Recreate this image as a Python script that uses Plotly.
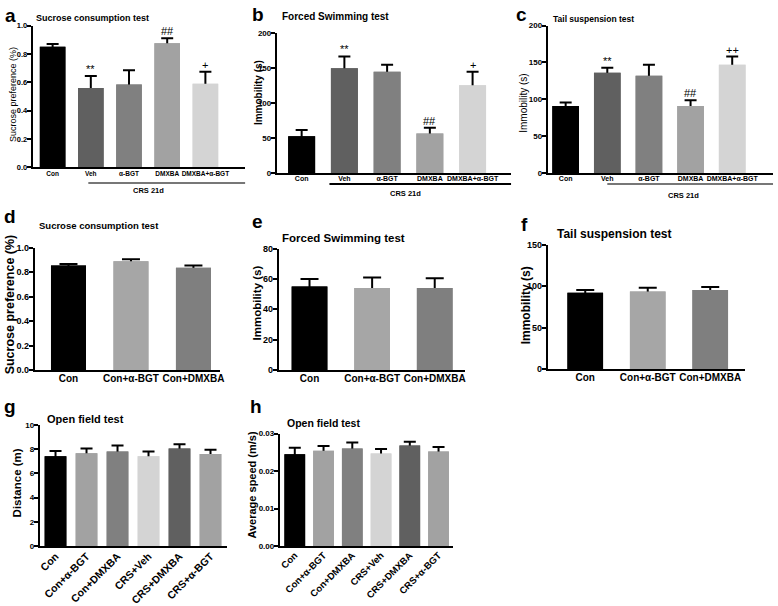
import plotly.graph_objects as go

W, H = 778, 606
FONT = "Liberation Sans, Arial, sans-serif"

# ---------------- data ----------------
cat_abc = ["Con", "Veh", "α-BGT", "DMXBA", "DMXBA+α-BGT"]
sucrose_a = [0.85, 0.56, 0.585, 0.875, 0.59]
sucrose_a_err = [0.02, 0.085, 0.10, 0.035, 0.085]
fst_b = [53, 150, 145, 57, 126]
fst_b_err = [9, 17, 10, 8, 19]
tst_c = [91, 136, 132, 91, 147]
tst_c_err = [5, 7, 15, 8, 11]
sig_a = ["", "**", "", "##", "+"]
sig_b = ["", "**", "", "##", "+"]
sig_c = ["", "**", "", "##", "++"]

cat_def = ["Con", "Con+α-BGT", "Con+DMXBA"]
sucrose_d = [0.855, 0.89, 0.835]
sucrose_d_err = [0.012, 0.015, 0.02]
fst_e = [55, 54, 54]
fst_e_err = [5, 7, 6.5]
tst_f = [92, 93.5, 95.5]
tst_f_err = [3.5, 4.5, 3.5]

cat_gh = ["Con", "Con+α-BGT", "Con+DMXBA", "CRS+Veh", "CRS+DMXBA", "CRS+α-BGT"]
dist_g = [7.4, 7.65, 7.8, 7.4, 8.05, 7.6]
dist_g_err = [0.45, 0.4, 0.5, 0.4, 0.35, 0.35]
speed_h = [0.0245, 0.0254, 0.026, 0.0247, 0.0268, 0.0252]
speed_h_err = [0.0017, 0.0013, 0.0016, 0.0012, 0.001, 0.0012]

# ---------------- styles ----------------
col_abc = ["#000000", "#606060", "#808080", "#a2a2a2", "#d4d4d4"]
col_def = ["#000000", "#a6a6a6", "#7f7f7f"]
col_gh = ["#000000", "#a2a2a2", "#808080", "#d4d4d4", "#606060", "#a2a2a2"]


def px(x):
    return x / W


def py(y):
    return 1 - y / H


fig = go.Figure()
annotations = []
shapes = []


def add_panel(i, cats, vals, errs, colors, box, xr, yr, dtick, fmt, bw, ew,
              ytf, xtf, xangle=0, sig=None, sigsize=11, xstand=-4):
    x0, x1, ytop, ybot = box
    xa = "x" if i == 1 else f"x{i}"
    ya = "y" if i == 1 else f"y{i}"
    fig.add_trace(go.Bar(
        x=cats, y=vals, width=bw, marker=dict(color=colors, line=dict(width=0)),
        error_y=dict(type="data", array=errs, symmetric=True, color="black",
                     thickness=2, width=ew),
        xaxis=xa, yaxis=ya, showlegend=False, hoverinfo="skip"))
    fig.add_trace(go.Bar(
        x=cats, y=vals, width=bw, marker=dict(color=colors, line=dict(width=0)),
        xaxis=xa, yaxis=ya, showlegend=False))
    fig.layout["xaxis" if i == 1 else f"xaxis{i}"] = dict(
        domain=[px(x0), px(x1)], anchor=ya, range=xr, type="category",
        showline=True, linecolor="black", linewidth=2, ticks="",
        showgrid=False, zeroline=False, tickfont=xtf, tickangle=xangle,
        ticklabelstandoff=xstand, fixedrange=True)
    fig.layout["yaxis" if i == 1 else f"yaxis{i}"] = dict(
        domain=[py(ybot), py(ytop)], anchor=xa, range=yr, dtick=dtick,
        tick0=0, tickformat=fmt, showline=True, linecolor="black",
        linewidth=2, ticks="outside", ticklen=4, tickwidth=1.5,
        tickcolor="black", showgrid=False, zeroline=False, tickfont=ytf,
        ticklabelstandoff=-2, fixedrange=True)
    if sig:
        for c, v, e, s in zip(cats, vals, errs, sig):
            if s:
                annotations.append(dict(
                    x=c, y=v + e, xref=xa, yref=ya, text=s, showarrow=False,
                    yanchor="bottom", yshift=-1,
                    font=dict(family=FONT, size=sigsize, color="black")))


def tf(size, bold=True):
    return dict(family=FONT, size=size, color="black",
                weight="bold" if bold else "normal")


# panel a
add_panel(1, cat_abc, sucrose_a, sucrose_a_err, col_abc, (31, 245, 21, 166),
          [-0.52, 5.04], [0, 1.0], 0.2, ".1f", 0.67, 6, tf(7.5), tf(6.5),
          sig=sig_a, xstand=-1)
# panel b
add_panel(2, cat_abc, fst_b, fst_b_err, col_abc, (277, 513, 29, 172),
          [-0.58, 4.9], [0, 200], 50, "d", 0.63, 6, tf(8), tf(7),
          sig=sig_b, xstand=-3)
# panel c
add_panel(3, cat_abc, tst_c, tst_c_err, col_abc, (550, 777, 21, 172),
          [-0.43, 4.98], [0, 200], 50, "d", 0.64, 6, tf(8), tf(7),
          sig=sig_c, xstand=-3)
# panel d
add_panel(4, cat_def, sucrose_d, sucrose_d_err, col_def, (33, 220, 248, 373),
          [-0.54, 2.43], [0, 1.0], 0.2, ".1f", 0.56, 9, tf(9), tf(10),
          xstand=-2)
# panel e
add_panel(5, cat_def, fst_e, fst_e_err, col_def, (279, 467, 249, 373),
          [-0.49, 2.49], [0, 80], 20, "d", 0.57, 9, tf(9), tf(10),
          xstand=-2)
# panel f
add_panel(6, cat_def, tst_f, tst_f_err, col_def, (550, 749, 245, 372),
          [-0.6, 2.56], [0, 150], 50, "d", 0.57, 9, tf(9), tf(10),
          xstand=-2)
# panel g
add_panel(7, cat_gh, dist_g, dist_g_err, col_gh, (38, 227, 429, 553),
          [-0.51, 5.54], [0, 10], 2, "d", 0.7, 6, tf(8), tf(10.5), xangle=-45,
          xstand=-2)
# panel h
add_panel(8, cat_gh, speed_h, speed_h_err, col_gh, (280, 455, 438, 553),
          [-0.52, 5.52], [0, 0.03], 0.01, ".2f", 0.72, 6, tf(8), tf(9.5),
          xangle=-45, xstand=-2)


def text(x, y, s, size, bold=True, angle=0, xanchor="center"):
    annotations.append(dict(
        x=px(x), y=py(y), xref="paper", yref="paper", text=s,
        showarrow=False, textangle=angle, xanchor=xanchor, yanchor="middle",
        font=dict(family=FONT, size=size, color="black",
                  weight="bold" if bold else "normal")))


# panel letters
for (lx, ly, s) in [(9, 11, "a"), (258, 10, "b"), (524, 10, "c"),
                    (8, 216, "d"), (257, 221, "e"), (527, 224, "f"),
                    (8, 410, "g"), (256, 410, "h")]:
    text(lx, ly, s, 19)

# titles
text(32, 13, "Sucrose consumption test", 9, xanchor="left")
text(280, 12, "Forced Swimming test", 10, xanchor="left")
text(553, 14, "Tail suspension test", 8.5, xanchor="left")
text(35, 225, "Sucrose consumption test", 9.5, xanchor="left")
text(280, 238, "Forced Swimming test", 11.5, xanchor="left")
text(557, 234, "Tail suspension test", 12, xanchor="left")
text(43, 423, "Open field test", 11, xanchor="left")
text(285, 427, "Open field test", 10.5, xanchor="left")

# y-axis titles
text(11, 91, "Sucrose preference (%)", 9, bold=False, angle=-90)
text(258, 90, "Immobility (s)", 10, angle=-90)
text(526, 100, "Immobility (s)", 10, bold=False, angle=-90)
text(9, 306, "Sucrose preference (%)", 12.5, angle=-90)
text(257, 305, "Immobility (s)", 11.5, angle=-90)
text(528, 307, "Immobility (s)", 12, angle=-90)
text(15, 488, "Distance (m)", 11.5, angle=-90)
text(252, 490, "Average speed (m/s)", 11, angle=-90)

# CRS 21d bars
for (xa0, xa1, yl, ty, tx, lc) in [(87, 245, 182, 190, 148, "#777777"),
                                   (330, 513, 183, 193, 407, "#000000"),
                                   (610, 777, 183, 195, 687, "#777777")]:
    shapes.append(dict(type="line", xref="paper", yref="paper",
                       x0=px(xa0), x1=px(xa1), y0=py(yl), y1=py(yl),
                       line=dict(color=lc, width=2)))
    text(tx, ty, "CRS 21d", 7.5)

fig.update_layout(
    width=W, height=H, margin=dict(l=0, r=0, t=0, b=0),
    paper_bgcolor="white", plot_bgcolor="white", barmode="overlay",
    annotations=annotations, shapes=shapes, showlegend=False,
    font=dict(family=FONT, color="black"))

fig.write_html("out.html", config={"displayModeBar": False},
               post_script="document.body.style.margin='0';"
                           "document.body.style.overflow='hidden';")
